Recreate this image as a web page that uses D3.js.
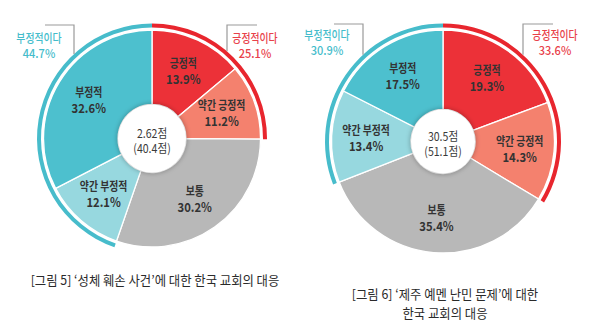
<!DOCTYPE html>
<html><head><meta charset="utf-8">
<script src="https://cdn.jsdelivr.net/npm/d3@7"></script>
<style>
html,body{margin:0;padding:0;background:#fff;}
svg{display:block;}
text{font-family:"Noto Sans CJK KR","Noto Sans",sans-serif;}
</style></head>
<body>
<svg id="chart" width="600" height="336"></svg>
<script>
const categories = ["긍정적", "약간 긍정적", "보통", "약간 부정적", "부정적"];
const values1 = [13.9, 11.2, 30.2, 12.1, 32.6];
const values2 = [19.3, 14.3, 35.4, 13.4, 17.5];
const groupLabels = ["긍정적이다", "부정적이다"];
const groupValues1 = [25.1, 44.7];
const groupValues2 = [33.6, 30.9];
const centerText1 = ["2.62점", "(40.4점)"];
const centerText2 = ["30.5점", "(51.1점)"];
const caption1 = ["[그림 5] ‘성체 훼손 사건’에 대한 한국 교회의 대응"];
const caption2 = ["[그림 6] ‘제주 예멘 난민 문제’에 대한", "한국 교회의 대응"];

const sliceColors = ["#ec3138", "#f4816e", "#b8b8b8", "#97d8df", "#4dc0ce"];
const posColor = "#e8262e", negColor = "#47bccb";
const posText = "#e8414a", negText = "#44bccb";

const svg = d3.select("#chart");
const color = d3.scaleOrdinal().domain(categories).range(sliceColors);

const defs = svg.append("defs");
const f = defs.append("filter").attr("id","sh").attr("x","-30%").attr("y","-30%").attr("width","160%").attr("height","160%");
f.append("feGaussianBlur").attr("stdDeviation", 2.2);

function condense(sel, k) {
  sel.each(function() {
    const L = this.getComputedTextLength();
    d3.select(this).attr("textLength", L * k).attr("lengthAdjust", "spacingAndGlyphs");
  });
}

function donut(cfg) {
  const g = svg.append("g").attr("transform", `translate(${cfg.cx},${cfg.cy})`);
  const pie = d3.pie().sort(null).value(d => d);
  const arcs = pie(cfg.values);
  const arc = d3.arc().innerRadius(cfg.r0).outerRadius(cfg.r);

  g.selectAll("path.slice").data(arcs).join("path")
    .attr("class","slice")
    .attr("d", arc)
    .attr("fill", (d,i) => color(categories[i]))
    .attr("stroke", "#fff").attr("stroke-width", 1.3);

  // outer group rings
  const ring = d3.arc().innerRadius(cfg.r + 2.5).outerRadius(cfg.r + 6.5);
  g.append("path").attr("d", ring({startAngle: arcs[0].startAngle, endAngle: arcs[1].endAngle}))
    .attr("fill", posColor);
  g.append("path").attr("d", ring({startAngle: arcs[3].startAngle, endAngle: arcs[4].endAngle}))
    .attr("fill", negColor);

  // hole with soft shadow
  g.append("circle").attr("r", cfg.r0 + 1.5).attr("fill", "rgba(0,0,0,0.22)").attr("filter","url(#sh)");
  g.append("circle").attr("r", cfg.r0).attr("fill", "#fff");

  // slice labels
  const la = d3.arc().innerRadius(cfg.lr).outerRadius(cfg.lr);
  arcs.forEach((d, i) => {
    const [x, y] = la.centroid(d);
    const t1 = g.append("text").attr("x", x).attr("y", y - 3).attr("text-anchor","middle")
      .attr("font-size", 12).attr("font-weight", 700).attr("fill", "#333").text(categories[i]);
    const t2 = g.append("text").attr("x", x).attr("y", y + 13).attr("text-anchor","middle")
      .attr("font-size", 12.5).attr("font-weight", 700).attr("fill", "#333").text(cfg.values[i].toFixed(1) + "%");
    condense(t1, 0.82); condense(t2, 0.9);
  });

  // center text
  cfg.center.forEach((s, i) => {
    const t = g.append("text").attr("x", 0).attr("y", -1 + i * 15).attr("text-anchor","middle")
      .attr("font-size", 12).attr("font-weight", 400).attr("fill", "#3a3a3a").text(s);
    condense(t, 0.88);
  });

  // group brackets and labels
  const R = cfg.r + 6.5;
  [[cfg.posDx, cfg.posDx + 30, posText, cfg.groupValues[0], groupLabels[0], cfg.posLx],
   [cfg.negDx, cfg.negDx - 29, negText, cfg.groupValues[1], groupLabels[1], cfg.negLx]].forEach(b => {
    const [vx, hx, col, val, lab, lx] = b;
    const yEnd = -Math.sqrt(R * R - vx * vx);
    g.append("path").attr("d", `M${hx},${cfg.by - cfg.cy}H${vx}V${yEnd}`)
      .attr("fill","none").attr("stroke","#9a9a9a").attr("stroke-width",1.2);
    const a = g.append("text").attr("x", lx).attr("y", cfg.ly - cfg.cy).attr("text-anchor","middle")
      .attr("font-size", 12).attr("font-weight", 500).attr("fill", col).text(lab);
    const b2 = g.append("text").attr("x", lx).attr("y", cfg.ly + 15 - cfg.cy).attr("text-anchor","middle")
      .attr("font-size", 12).attr("font-weight", 500).attr("fill", col).text(val.toFixed(1) + "%");
    condense(a, 0.82); condense(b2, 0.92);
  });

  // caption
  cfg.caption.forEach((s, i) => {
    const t = svg.append("text").attr("x", cfg.capX).attr("y", cfg.capY + i * 18.5).attr("text-anchor","middle")
      .attr("font-size", 13).attr("font-weight", 400).attr("fill", "#2a2a2a").text(s);
    condense(t, cfg.capK);
  });
}

donut({cx:152, cy:138.5, r:108.5, r0:34, lr:74, values:values1, groupValues:groupValues1,
  center:centerText1, posDx:75, negDx:-78, posLx:103, negLx:-113, by:25, ly:42.5,
  caption:caption1, capX:155, capY:285, capK:0.95});
donut({cx:443, cy:141.5, r:111.5, r0:32, lr:77, values:values2, groupValues:groupValues2,
  center:centerText2, posDx:80, negDx:-80, posLx:112, negLx:-116, by:24, ly:40,
  caption:caption2, capX:445, capY:299, capK:0.95});
</script>
</body></html>
